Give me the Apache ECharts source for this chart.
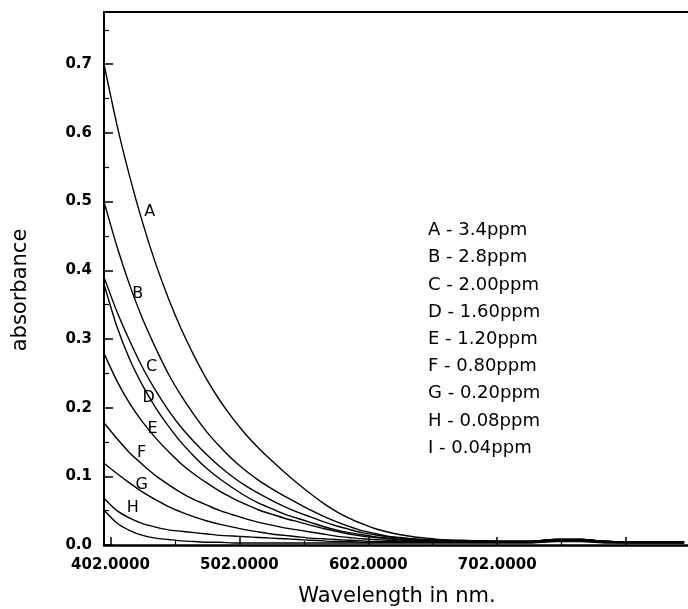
<!DOCTYPE html>
<html>
<head>
<meta charset="utf-8">
<script src="https://cdn.jsdelivr.net/npm/echarts@6/dist/echarts.min.js"></script>
<style>
  html, body { margin: 0; padding: 0; background: #fff; }
  #chart { width: 688px; height: 609px; }
</style>
</head>
<body>
<div id="chart"></div>
<script>
// ---- data ----
var wavelengths = [397, 407, 417, 427, 437, 447, 457, 467, 477, 487, 497, 507, 517, 527, 537, 547, 557, 567, 577, 587, 597, 607, 617, 627, 637, 647, 657, 667,
                   687, 707, 727, 747, 767, 787, 807, 827, 847];
var seriesA = [0.700, 0.612, 0.536, 0.469, 0.410, 0.359, 0.314, 0.275, 0.240, 0.210, 0.184, 0.161, 0.141, 0.123, 0.106, 0.090, 0.075, 0.061, 0.049, 0.039, 0.031, 0.024, 0.019, 0.015, 0.012, 0.010, 0.008, 0.007,
               0.006, 0.005, 0.005, 0.008, 0.008, 0.005, 0.004, 0.004, 0.004];
var seriesB = [0.500, 0.435, 0.378, 0.329, 0.287, 0.249, 0.217, 0.189, 0.164, 0.143, 0.124, 0.108, 0.094, 0.082, 0.071, 0.061, 0.051, 0.042, 0.034, 0.027, 0.021, 0.017, 0.013, 0.011, 0.009, 0.008, 0.007, 0.007,
               0.006, 0.005, 0.005, 0.008, 0.008, 0.005, 0.004, 0.004, 0.004];
var seriesC = [0.390, 0.340, 0.297, 0.258, 0.225, 0.196, 0.171, 0.150, 0.131, 0.114, 0.099, 0.086, 0.075, 0.065, 0.056, 0.048, 0.041, 0.034, 0.028, 0.023, 0.018, 0.015, 0.012, 0.010, 0.008, 0.007, 0.007, 0.006,
               0.006, 0.005, 0.005, 0.008, 0.008, 0.005, 0.004, 0.004, 0.004];
var seriesD = [0.380, 0.318, 0.270, 0.232, 0.200, 0.173, 0.149, 0.129, 0.111, 0.096, 0.083, 0.071, 0.061, 0.053, 0.045, 0.039, 0.033, 0.027, 0.022, 0.018, 0.015, 0.012, 0.010, 0.008, 0.007, 0.007, 0.006, 0.006,
               0.006, 0.005, 0.005, 0.008, 0.008, 0.005, 0.004, 0.004, 0.004];
var seriesE = [0.279, 0.239, 0.206, 0.179, 0.156, 0.136, 0.118, 0.103, 0.090, 0.078, 0.068, 0.059, 0.051, 0.045, 0.039, 0.034, 0.029, 0.024, 0.020, 0.016, 0.013, 0.011, 0.009, 0.008, 0.007, 0.006, 0.006, 0.006,
               0.006, 0.005, 0.005, 0.007, 0.008, 0.005, 0.004, 0.004, 0.004];
var seriesF = [0.178, 0.155, 0.134, 0.117, 0.101, 0.088, 0.076, 0.066, 0.058, 0.050, 0.044, 0.038, 0.033, 0.029, 0.025, 0.022, 0.019, 0.016, 0.013, 0.011, 0.009, 0.008, 0.007, 0.006, 0.006, 0.005, 0.005, 0.005,
               0.005, 0.005, 0.005, 0.007, 0.007, 0.005, 0.004, 0.004, 0.004];
var seriesG = [0.119, 0.104, 0.090, 0.077, 0.066, 0.056, 0.048, 0.041, 0.035, 0.030, 0.026, 0.022, 0.019, 0.016, 0.014, 0.012, 0.010, 0.009, 0.008, 0.007, 0.006, 0.005, 0.005, 0.005, 0.005, 0.005, 0.005, 0.005,
               0.005, 0.004, 0.004, 0.007, 0.007, 0.005, 0.004, 0.004, 0.004];
var seriesH = [0.068, 0.050, 0.039, 0.031, 0.026, 0.022, 0.020, 0.018, 0.016, 0.014, 0.013, 0.012, 0.011, 0.010, 0.009, 0.008, 0.007, 0.006, 0.005, 0.005, 0.004, 0.004, 0.004, 0.004, 0.004, 0.004, 0.004, 0.004,
               0.004, 0.004, 0.004, 0.006, 0.006, 0.004, 0.003, 0.003, 0.003];
var seriesI = [0.051, 0.032, 0.021, 0.014, 0.010, 0.008, 0.006, 0.005, 0.004, 0.004, 0.003, 0.003, 0.003, 0.003, 0.003, 0.003, 0.003, 0.003, 0.003, 0.003, 0.003, 0.003, 0.003, 0.003, 0.003, 0.003, 0.003, 0.003,
               0.003, 0.003, 0.003, 0.005, 0.005, 0.003, 0.003, 0.003, 0.003];
var curveLetters = ['A', 'B', 'C', 'D', 'E', 'F', 'G', 'H', 'I'];
var legendLabels = ['A - 3.4ppm', 'B - 2.8ppm', 'C - 2.00ppm', 'D - 1.60ppm', 'E - 1.20ppm', 'F - 0.80ppm', 'G - 0.20ppm', 'H - 0.08ppm', 'I - 0.04ppm'];
var xTickLabels = [402, 502, 602, 702];
var xMajorTicks = [402, 502, 602, 702, 802];
var xMinorTicks = [452, 552, 652, 752];
var yTickValues = [0, 0.1, 0.2, 0.3, 0.4, 0.5, 0.6, 0.7];
var yMinorTicks = [0.05, 0.15, 0.25, 0.35, 0.45, 0.55, 0.65, 0.75];
var xTitle = 'Wavelength in nm.';
var yTitle = 'absorbance';

// ---- layout / style (not data) ----
var allSeries = [seriesA, seriesB, seriesC, seriesD, seriesE, seriesF, seriesG, seriesH, seriesI];
// which data index carries the curve letter, and pixel offset of the letter
var letterAnchor = [
  { idx: 3, off: [7, -11] },
  { idx: 2, off: [8, 8] },
  { idx: 3, off: [9, -1] },
  { idx: 3, off: [6, 12] },
  { idx: 4, off: [-3, -9] },
  { idx: 3, off: [-1, -12] },
  { idx: 3, off: [-1, -7] },
  { idx: 2, off: [3, -10] },
  null
];
var FONT = 'DejaVu Sans';

var series = allSeries.map(function (vals, k) {
  var s = {
    type: 'line',
    name: legendLabels[k],
    data: wavelengths.map(function (w, i) { return [w, vals[i]]; }),
    showSymbol: false,
    smooth: 0.25,
    lineStyle: { color: '#000', width: 1.4 },
    silent: true,
    z: 3
  };
  var a = letterAnchor[k];
  if (a) {
    s.markPoint = {
      symbol: 'circle',
      symbolSize: 0,
      silent: true,
      label: {
        show: true,
        position: 'inside',
        formatter: curveLetters[k],
        offset: a.off,
        color: '#000',
        fontFamily: FONT,
        fontSize: 16
      },
      data: [{ coord: [wavelengths[a.idx], vals[a.idx]] }]
    };
  }
  return s;
});

var chart = echarts.init(document.getElementById('chart'), null, { renderer: 'canvas' });
chart.setOption({
  animation: false,
  backgroundColor: '#fff',
  grid: { left: 104, right: 0, top: 12, bottom: 64, containLabel: false },
  xAxis: [
    {
      type: 'value', min: 397, max: 850, position: 'bottom',
      axisLine: { show: true, lineStyle: { color: '#000', width: 2.5 } },
      axisTick: { show: true, inside: true, length: 8, customValues: xMajorTicks, lineStyle: { color: '#000', width: 1.5 } },
      axisLabel: {
        show: true, customValues: xTickLabels, margin: 13,
        formatter: function (v) { return Number(v).toFixed(4); },
        color: '#000', fontFamily: FONT, fontSize: 15, fontWeight: 'bold'
      },
      splitLine: { show: false }
    },
    {
      type: 'value', min: 397, max: 850, position: 'bottom',
      axisLine: { show: false },
      axisTick: { show: true, inside: true, length: 4, customValues: xMinorTicks, lineStyle: { color: '#000', width: 1.2 } },
      axisLabel: { show: false },
      splitLine: { show: false }
    },
    {
      type: 'value', min: 397, max: 850, position: 'top',
      axisLine: { show: true, lineStyle: { color: '#000', width: 2 } },
      axisTick: { show: false }, axisLabel: { show: false }, splitLine: { show: false }
    }
  ],
  yAxis: [
    {
      type: 'value', min: 0, max: 0.776, position: 'left',
      axisLine: { show: true, lineStyle: { color: '#000', width: 2 } },
      axisTick: { show: true, inside: true, length: 9, customValues: yTickValues, lineStyle: { color: '#000', width: 1.5 } },
      axisLabel: {
        show: true, customValues: yTickValues, margin: 12,
        formatter: function (v) { return Number(v).toFixed(1); },
        color: '#000', fontFamily: FONT, fontSize: 15, fontWeight: 'bold'
      },
      splitLine: { show: false }
    },
    {
      type: 'value', min: 0, max: 0.776, position: 'left',
      axisLine: { show: false },
      axisTick: { show: true, inside: true, length: 5, customValues: yMinorTicks, lineStyle: { color: '#000', width: 1.2 } },
      axisLabel: { show: false },
      splitLine: { show: false }
    }
  ],
  series: series,
  graphic: [
    {
      type: 'text', x: 21, y: 290, rotation: Math.PI / 2,
      style: { text: yTitle, fill: '#000', font: '21px "DejaVu Sans"', align: 'center', verticalAlign: 'middle' }
    },
    {
      type: 'text', x: 397, y: 597,
      style: { text: xTitle, fill: '#000', font: '21px "DejaVu Sans"', align: 'center', verticalAlign: 'middle' }
    },
    {
      type: 'text', x: 428, y: 217,
      style: { text: legendLabels.join('\n'), fill: '#000', font: '18px "DejaVu Sans"', lineHeight: 27.2, align: 'left', verticalAlign: 'top' }
    }
  ]
});
</script>
</body>
</html>
